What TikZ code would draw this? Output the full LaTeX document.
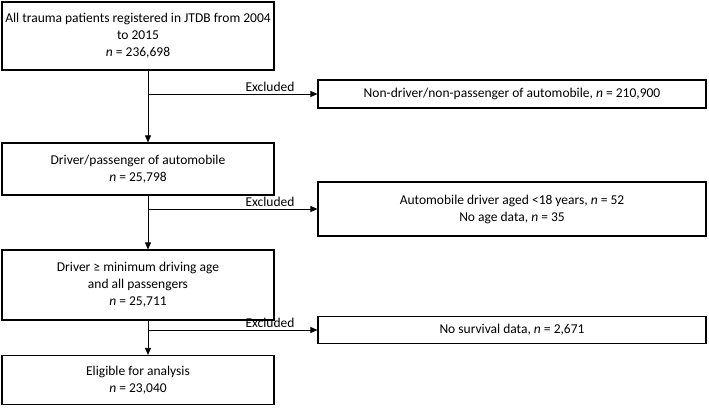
\documentclass[tikz,border=0pt]{standalone}
\usepackage{fontspec}
\setmainfont{Carlito}
\usetikzlibrary{arrows.meta}
\tikzset{every picture/.style={line width=1pt}}
\tikzset{
  flowbox/.style={draw, line width=1.2pt, align=center, inner sep=0pt, font=\fontsize{13.5}{17}\selectfont},
  flowarrow/.style={-{Triangle[length=7,width=6]}, line width=0.8pt},
  exlabel/.style={anchor=south, inner sep=2pt, font=\fontsize{13.5}{15}\selectfont}
}

\begin{document}
\begin{tikzpicture}[x=1pt,y=1pt,yscale=-1]
\useasboundingbox (0,0) rectangle (709,407);

% main column
\node [flowbox, minimum width=272, minimum height=68] (all) at (138,36) {All trauma patients registered in JTDB from 2004\\to 2015\\\textit{n} = 236,698};
\node [flowbox, minimum width=272, minimum height=52] (auto) at (138,169) {Driver/passenger of automobile\\\textit{n} = 25,798};
\node [flowbox, minimum width=272, minimum height=70] (age) at (138,285) {Driver ≥ minimum driving age\\and all passengers\\\textit{n} = 25,711};
\node [flowbox, minimum width=272, minimum height=49] (elig) at (138,380) {Eligible for analysis\\\textit{n} = 23,040};

% exclusions
\node [flowbox, minimum width=388, minimum height=28] (ex1) at (512,94) {Non-driver/non-passenger of automobile, \textit{n} = 210,900};
\node [flowbox, minimum width=388, minimum height=54] (ex2) at (512,209) {Automobile driver aged <18 years, \textit{n} = 52\\No age data, \textit{n} = 35};
\node [flowbox, minimum width=388, minimum height=27] (ex3) at (512,330) {No survival data, \textit{n} = 2,671};

\coordinate (c) at (148,0);
\coordinate (j1) at (c |- ex1.west);
\coordinate (j2) at (c |- ex2.west);
\coordinate (j3) at (c |- ex3.west);

\draw [flowarrow] (all.south -| j1) -- (auto.north -| j1);
\draw [flowarrow] (auto.south -| j2) -- (age.north -| j2);
\draw [flowarrow] (age.south -| j3) -- (elig.north -| j3);

\draw [flowarrow] (j1) -- (ex1.west);
\draw [flowarrow] (j2) -- (ex2.west);
\draw [flowarrow] (j3) -- (ex3.west);

\coordinate (l) at (270,0);
\node [exlabel] (lab1) at (l |- j1) {Excluded};
\node [exlabel] (lab2) at (l |- j2) {Excluded};
\node [exlabel] (lab3) at (l |- j3) {Excluded};
\end{tikzpicture}
\end{document}
